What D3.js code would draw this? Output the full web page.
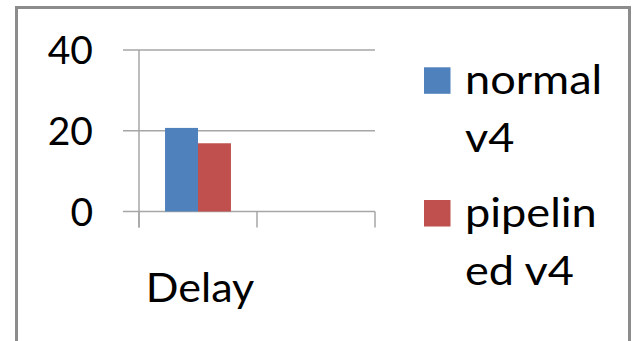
<!DOCTYPE html>
<html>
<head>
<meta charset="utf-8">
<script src="https://cdn.jsdelivr.net/npm/d3@7"></script>
<style>
  html, body { margin: 0; padding: 0; background: #fff; }
  svg { display: block; }
  text { font-family: Lato, "Open Sans", sans-serif; fill: #000; }
</style>
</head>
<body>
<svg id="chart" width="633" height="341"></svg>
<script>
// Categories on the horizontal axis (the second slot is left empty)
const categories = ["Delay", ""];
// Series names and their values per category
const seriesNames = ["normal v4", "pipelined v4"];
const normalV4 = [20.7, null];
const pipelinedV4 = [16.9, null];
const seriesColors = ["#4f81bd", "#c0504d"];
// Y axis tick values
const yTicks = [0, 20, 40];
// Legend labels as they wrap inside the legend box
const legendLines = [["normal", "v4"], ["pipelin", "ed v4"]];

const svg = d3.select("#chart");
const gridColor = "#a6a6a6";

// Outer chart frame (bottom edge runs past the visible area)
svg.append("rect")
  .attr("x", 16.5).attr("y", 7.5)
  .attr("width", 613).attr("height", 360)
  .attr("fill", "none")
  .attr("stroke", "#8c8c8c")
  .attr("stroke-width", 3);

const plot = { left: 139, right: 375, top: 50, bottom: 211.5 };

const y = d3.scaleLinear().domain([0, 40]).range([plot.bottom, plot.top]);
const x0 = d3.scaleBand().domain(categories).range([plot.left, plot.right]).padding(0);
const x1 = d3.scaleBand().domain(seriesNames).range([0, x0.bandwidth()])
  .paddingInner(0).paddingOuter(0.79);

// Horizontal gridlines, with tick marks extending left of the axis
svg.append("g").selectAll("line").data(yTicks).join("line")
  .attr("x1", plot.left - 16).attr("x2", plot.right)
  .attr("y1", d => y(d)).attr("y2", d => y(d))
  .attr("stroke", gridColor).attr("stroke-width", 1.5);

// Vertical axis line
svg.append("line")
  .attr("x1", plot.left).attr("x2", plot.left)
  .attr("y1", plot.top).attr("y2", plot.bottom + 16)
  .attr("stroke", gridColor).attr("stroke-width", 1.5);

// Category boundary ticks below the baseline
const boundaries = categories.map(c => x0(c)).concat([plot.right]);
svg.append("g").selectAll("line").data(boundaries).join("line")
  .attr("x1", d => d).attr("x2", d => d)
  .attr("y1", plot.bottom).attr("y2", plot.bottom + 16)
  .attr("stroke", gridColor).attr("stroke-width", 1.5);

// Y tick labels
svg.append("g").selectAll("text").data(yTicks).join("text")
  .attr("x", 93).attr("y", d => y(d))
  .attr("dy", "0.36em")
  .attr("text-anchor", "end")
  .attr("font-size", 39)
  .text(d => d);

// Bars
const rows = categories.map((c, i) => ({
  category: c,
  values: [normalV4[i], pipelinedV4[i]]
}));
const groups = svg.append("g").selectAll("g").data(rows).join("g")
  .attr("transform", d => `translate(${x0(d.category)},0)`);
groups.selectAll("rect")
  .data(d => d.values.map((v, j) => ({ name: seriesNames[j], value: v, color: seriesColors[j] }))
    .filter(e => e.value != null))
  .join("rect")
  .attr("x", d => x1(d.name))
  .attr("width", x1.bandwidth())
  .attr("y", d => y(d.value))
  .attr("height", d => y(0) - y(d.value))
  .attr("fill", d => d.color);

// Category labels (slightly widened glyphs)
svg.append("g").selectAll("g").data(categories).join("g")
  .attr("transform", d => `translate(${x0(d) + x0.bandwidth() / 2 + 2},301.5) scale(1.05,1)`)
  .append("text")
  .attr("text-anchor", "middle")
  .attr("font-size", 41)
  .text(d => d);

// Legend
const legend = svg.append("g");
const legendTop = [67.3, 200];
seriesNames.forEach((name, i) => {
  legend.append("rect")
    .attr("x", 424).attr("y", legendTop[i])
    .attr("width", 26.5).attr("height", 26.5)
    .attr("fill", seriesColors[i]);
  legendLines[i].forEach((line, k) => {
    legend.append("g")
      .attr("transform", `translate(465,${legendTop[i] + 27 + k * 57.5}) scale(1.1,1)`)
      .append("text")
      .attr("font-size", 41)
      .text(line);
  });
});
</script>
</body>
</html>
